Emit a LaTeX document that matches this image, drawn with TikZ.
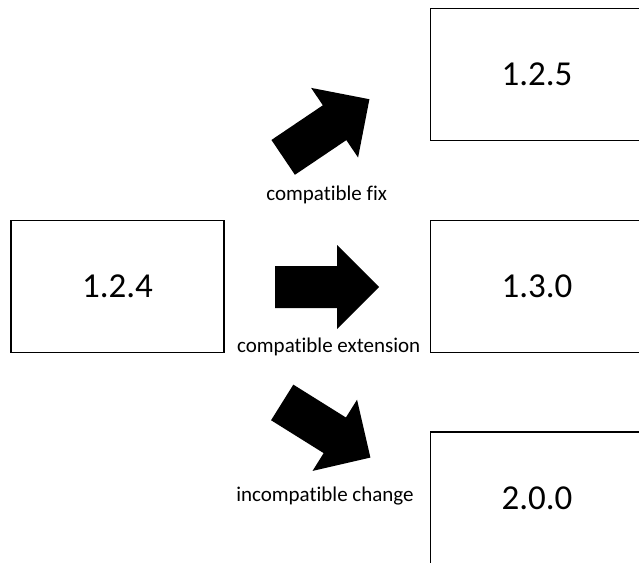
\documentclass[tikz,border=0pt]{standalone}
\usepackage{fontspec}
\setmainfont{Carlito}[Ligatures={NoCommon,NoContextual}]
\begin{document}
\begin{tikzpicture}[x=1pt,y=-1pt,
  verbox/.style={draw=black,line width=1.4pt,minimum width=213pt,minimum height=132pt,inner sep=0pt,font=\fontsize{35}{40}\selectfont},
  lbl/.style={font=\fontsize{21}{24}\selectfont,anchor=base,inner sep=0pt},
  blockarrow/.style={fill=black,draw=none}]
\clip (0,0) rectangle (639,562);
\fill[white] (0,0) rectangle (639,562);
\node[verbox] (v124) at (117.5,286.5) {1.2.4};
\node[verbox] (v125) at (537,74.5) {1.2.5};
\node[verbox] (v130) at (537,286.5) {1.3.0};
\node[verbox] (v200) at (537,498) {2.0.0};
% block arrows
\begin{scope}[shift={(327,287)}]
  \fill[blockarrow] (-52,-21) -- (10,-21) -- (10,-42) -- (52,0) -- (10,42) -- (10,21) -- (-52,21) -- cycle;
\end{scope}
\begin{scope}[shift={(326.3,128.3)},rotate=34]
  \fill[blockarrow] (-52,-21) -- (10,-21) -- (10,-42) -- (52,0) -- (10,42) -- (10,21) -- (-52,21) -- cycle;
\end{scope}
\begin{scope}[shift={(326.3,430)},rotate=-32]
  \fill[blockarrow] (-52,-21) -- (10,-21) -- (10,-42) -- (52,0) -- (10,42) -- (10,21) -- (-52,21) -- cycle;
\end{scope}
\node[lbl] (lfix) at (326.7,200) {compatible fix};
\node[lbl] (lext) at (328.7,352.7) {compatible extension};
\node[lbl] (lchg) at (325,501) {incompatible change};
\end{tikzpicture}
\end{document}
